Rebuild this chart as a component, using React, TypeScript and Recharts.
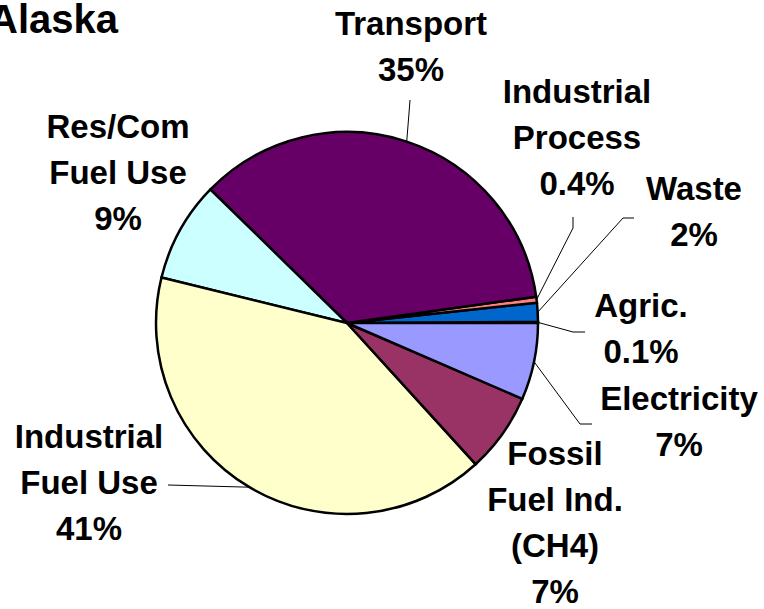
import { PieChart, Pie, Cell } from "recharts"

const sectors = ["Agric.", "Waste", "Industrial Process", "Transport", "Res/Com Fuel Use", "Industrial Fuel Use", "Fossil Fuel Ind. (CH4)", "Electricity"]
const shares = [0.1, 1.6, 0.5, 35.5, 8.5, 40.6, 6.75, 6.5]
const shareLabels = ["0.1%", "2%", "0.4%", "35%", "9%", "41%", "7%", "7%"]
const labelLines = [
  ["Agric."],
  ["Waste"],
  ["Industrial", "Process"],
  ["Transport"],
  ["Res/Com", "Fuel Use"],
  ["Industrial", "Fuel Use"],
  ["Fossil", "Fuel Ind.", "(CH4)"],
  ["Electricity"],
]
const colors = ["#CCCCFF", "#0066CC", "#FF8080", "#660066", "#CCFFFF", "#FFFFCC", "#993366", "#9999FF"]

const data = sectors.map((name, i) => ({ name, value: shares[i] }))

// label placement relative to pie centre: text centre x, first baseline y, leader elbow + end
const labelLayout = [
  { x: 294, y: -6, elbow: [226, 9], end: [238, 9] },
  { x: 347, y: -123, elbow: [276, -105], end: [287, -105] },
  { x: 230, y: -220, elbow: [226, -95], end: [226, -106] },
  { x: 64, y: -288, elbow: [62, -210], end: [63, -223] },
  { x: -229, y: -185 },
  { x: -258, y: 125, elbow: [-179, 162], end: [-179, 162] },
  { x: 208, y: 142 },
  { x: 332, y: 87, elbow: [233, 101], end: [245, 101] },
]

const RAD = Math.PI / 180
const lineHeight = 46

function renderLabel(props: any) {
  const { cx, cy, midAngle, outerRadius, index } = props
  const lay = labelLayout[index]
  const lines = [...labelLines[index], shareLabels[index]]
  const ex = cx + outerRadius * Math.cos(-midAngle * RAD)
  const ey = cy + outerRadius * Math.sin(-midAngle * RAD)
  return (
    <g key={`lbl-${index}`}>
      {lay.elbow && (
        <polyline
          points={`${ex},${ey} ${cx + lay.elbow[0]},${cy + lay.elbow[1]} ${cx + lay.end[0]},${cy + lay.end[1]}`}
          fill="none"
          stroke="#000"
          strokeWidth={1}
        />
      )}
      <text
        x={cx + lay.x}
        y={cy + lay.y}
        textAnchor="middle"
        fontFamily="'Liberation Sans', Arial, sans-serif"
        fontWeight="bold"
        fontSize={33}
        fill="#000"
      >
        {lines.map((l, i) => (
          <tspan key={i} x={cx + lay.x} y={cy + lay.y + i * lineHeight}>
            {l}
          </tspan>
        ))}
      </text>
    </g>
  )
}

export default function App() {
  return (
    <div style={{ position: "absolute", left: 0, top: 0, background: "#fff" }}>
      <PieChart width={764} height={609} margin={{ top: 0, right: 0, bottom: 0, left: 0 }}>
        <text
          x={118}
          y={33}
          textAnchor="end"
          fontFamily="'Liberation Sans', Arial, sans-serif"
          fontWeight="bold"
          fontSize={40}
          fill="#000"
        >
          Alaska
        </text>
        <Pie
          data={data}
          dataKey="value"
          nameKey="name"
          cx={347}
          cy={323}
          outerRadius={191}
          startAngle={0}
          endAngle={360}
          stroke="#000"
          strokeWidth={2.5}
          label={renderLabel}
          labelLine={false}
          isAnimationActive={false}
        >
          {data.map((d, i) => (
            <Cell key={d.name} fill={colors[i]} />
          ))}
        </Pie>
      </PieChart>
    </div>
  )
}
